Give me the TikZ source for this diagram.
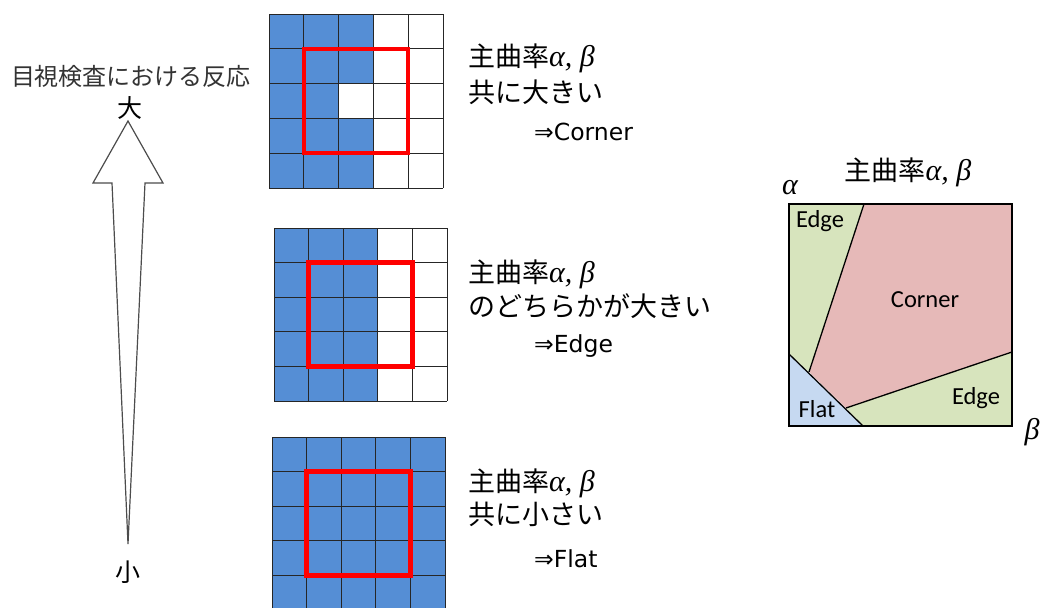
\documentclass[tikz,border=0pt]{standalone}
\usepackage{fontspec}
\setmainfont{Carlito}
\newfontfamily\jp{Noto Sans CJK JP}
\newfontfamily\dv{DejaVu Sans}
\newfontfamily\gr{Liberation Serif}
\definecolor{cellblue}{HTML}{558ED5}
\definecolor{cpink}{HTML}{E6B9B8}
\definecolor{cgreen}{HTML}{D7E4BD}
\definecolor{cflat}{HTML}{C6D9F1}
\newcommand{\ab}{{\gr\itshape\fontsize{30}{32}\selectfont α, β}}
\begin{document}
\begin{tikzpicture}[x=1pt,y=-1pt,
  gl/.style={draw=black!85, line width=1pt},
  redbox/.style={draw=red, line width=4.4pt},
  jptext/.style={anchor=west, inner sep=0pt, font=\jp\fontsize{27}{30}\selectfont},
  result/.style={anchor=west, inner sep=0pt, font=\dv\fontsize{23.5}{26}\selectfont},
  region/.style={draw=black, line width=1.3pt},
  rlabel/.style={font=\fontsize{24.5}{28}\selectfont, inner sep=0pt}]
\useasboundingbox (0,0) rectangle (1045,608);

% ---------- left arrow ----------
\draw[draw=black!70, line width=1.2pt, fill=white, line join=miter]
  (128,121) -- (163,183) -- (145,183) -- (128,544) -- (112,183) -- (93,183) -- cycle;
\node[font=\jp\fontsize{24}{28}\selectfont, text=black!80, inner sep=0pt] (lbl) at (131,76) {目視検査における反応};
\node[font=\jp\fontsize{25}{28}\selectfont, inner sep=0pt] (big) at (130,108) {大};
\node[font=\jp\fontsize{25}{28}\selectfont, inner sep=0pt] (small) at (128,572) {小};

% ---------- grid 1 (corner) ----------
\fill[cellblue] (269,14) rectangle ++(104.4,174);
\fill[white] (338.6,83.6) rectangle ++(34.8,34.8);
\foreach \i in {0,...,5} {
  \draw[gl] (269+\i*34.8,14) -- ++(0,174);
  \draw[gl] (269,14+\i*34.8) -- ++(174,0);
}
\draw[redbox] (303.8,48.8) rectangle ++(104.4,104.4);
\node[jptext] (c1) at (468,58) {主曲率\ab};
\node[jptext] (c2) at (468,92) {共に大きい};
\node[result] (c3) at (534,132) {⇒Corner};

% ---------- grid 2 (edge) ----------
\fill[cellblue] (274,228) rectangle ++(103.8,173);
\foreach \i in {0,...,5} {
  \draw[gl] (274+\i*34.6,228) -- ++(0,173);
  \draw[gl] (274,228+\i*34.6) -- ++(173,0);
}
\draw[redbox] (308.6,262.6) rectangle ++(103.8,103.8);
\node[jptext] (e1) at (468,274) {主曲率\ab};
\node[jptext] (e2) at (468,306) {のどちらかが大きい};
\node[result] (e3) at (534,346) {⇒Edge};

% ---------- grid 3 (flat) ----------
\fill[cellblue] (272,437) rectangle ++(173,173);
\foreach \i in {0,...,5} {
  \draw[gl] (272+\i*34.6,437) -- ++(0,173);
  \draw[gl] (272,437+\i*34.6) -- ++(173,0);
}
\draw[redbox] (306.6,471.6) rectangle ++(103.8,103.8);
\node[jptext] (f1) at (468,483) {主曲率\ab};
\node[jptext] (f2) at (468,514) {共に小さい};
\node[result] (f3) at (534,559) {⇒Flat};

% ---------- right panel ----------
\coordinate (TL) at (789,204);
\coordinate (TR) at (1012,204);
\coordinate (BR) at (1012,426);
\coordinate (BL) at (789,426);
\coordinate (A) at (864,204);
\coordinate (B) at (809,372);
\coordinate (F1) at (789,354);
\coordinate (F2) at (863,426);
\coordinate (C) at (846,408);
\coordinate (D) at (1012,352);
\fill[cpink] (A) -- (TR) -- (D) -- (C) -- (B) -- cycle;
\fill[cgreen] (TL) -- (A) -- (B) -- (F1) -- cycle;
\fill[cflat] (F1) -- (F2) -- (BL) -- cycle;
\fill[cgreen] (C) -- (D) -- (BR) -- (F2) -- cycle;
\draw[region] (A) -- (B);
\draw[region] (F1) -- (F2);
\draw[region] (C) -- (D);
\draw[region] (TL) rectangle (BR);
\node[rlabel] (le1) at (820,221) {Edge};
\node[rlabel] (lc) at (925,300) {Corner};
\node[rlabel] (lf) at (817,409) {Flat};
\node[rlabel] (le2) at (976,398) {Edge};
\node[font=\jp\fontsize{27}{30}\selectfont, inner sep=0pt] (ttl) at (908,172) {主曲率\ab};
\node[font=\gr\itshape\fontsize{30}{32}\selectfont, inner sep=0pt] (ax) at (790,188) {α};
\node[font=\gr\itshape\fontsize{30}{32}\selectfont, inner sep=0pt] (bx) at (1032,432) {β};
\end{tikzpicture}
\end{document}
